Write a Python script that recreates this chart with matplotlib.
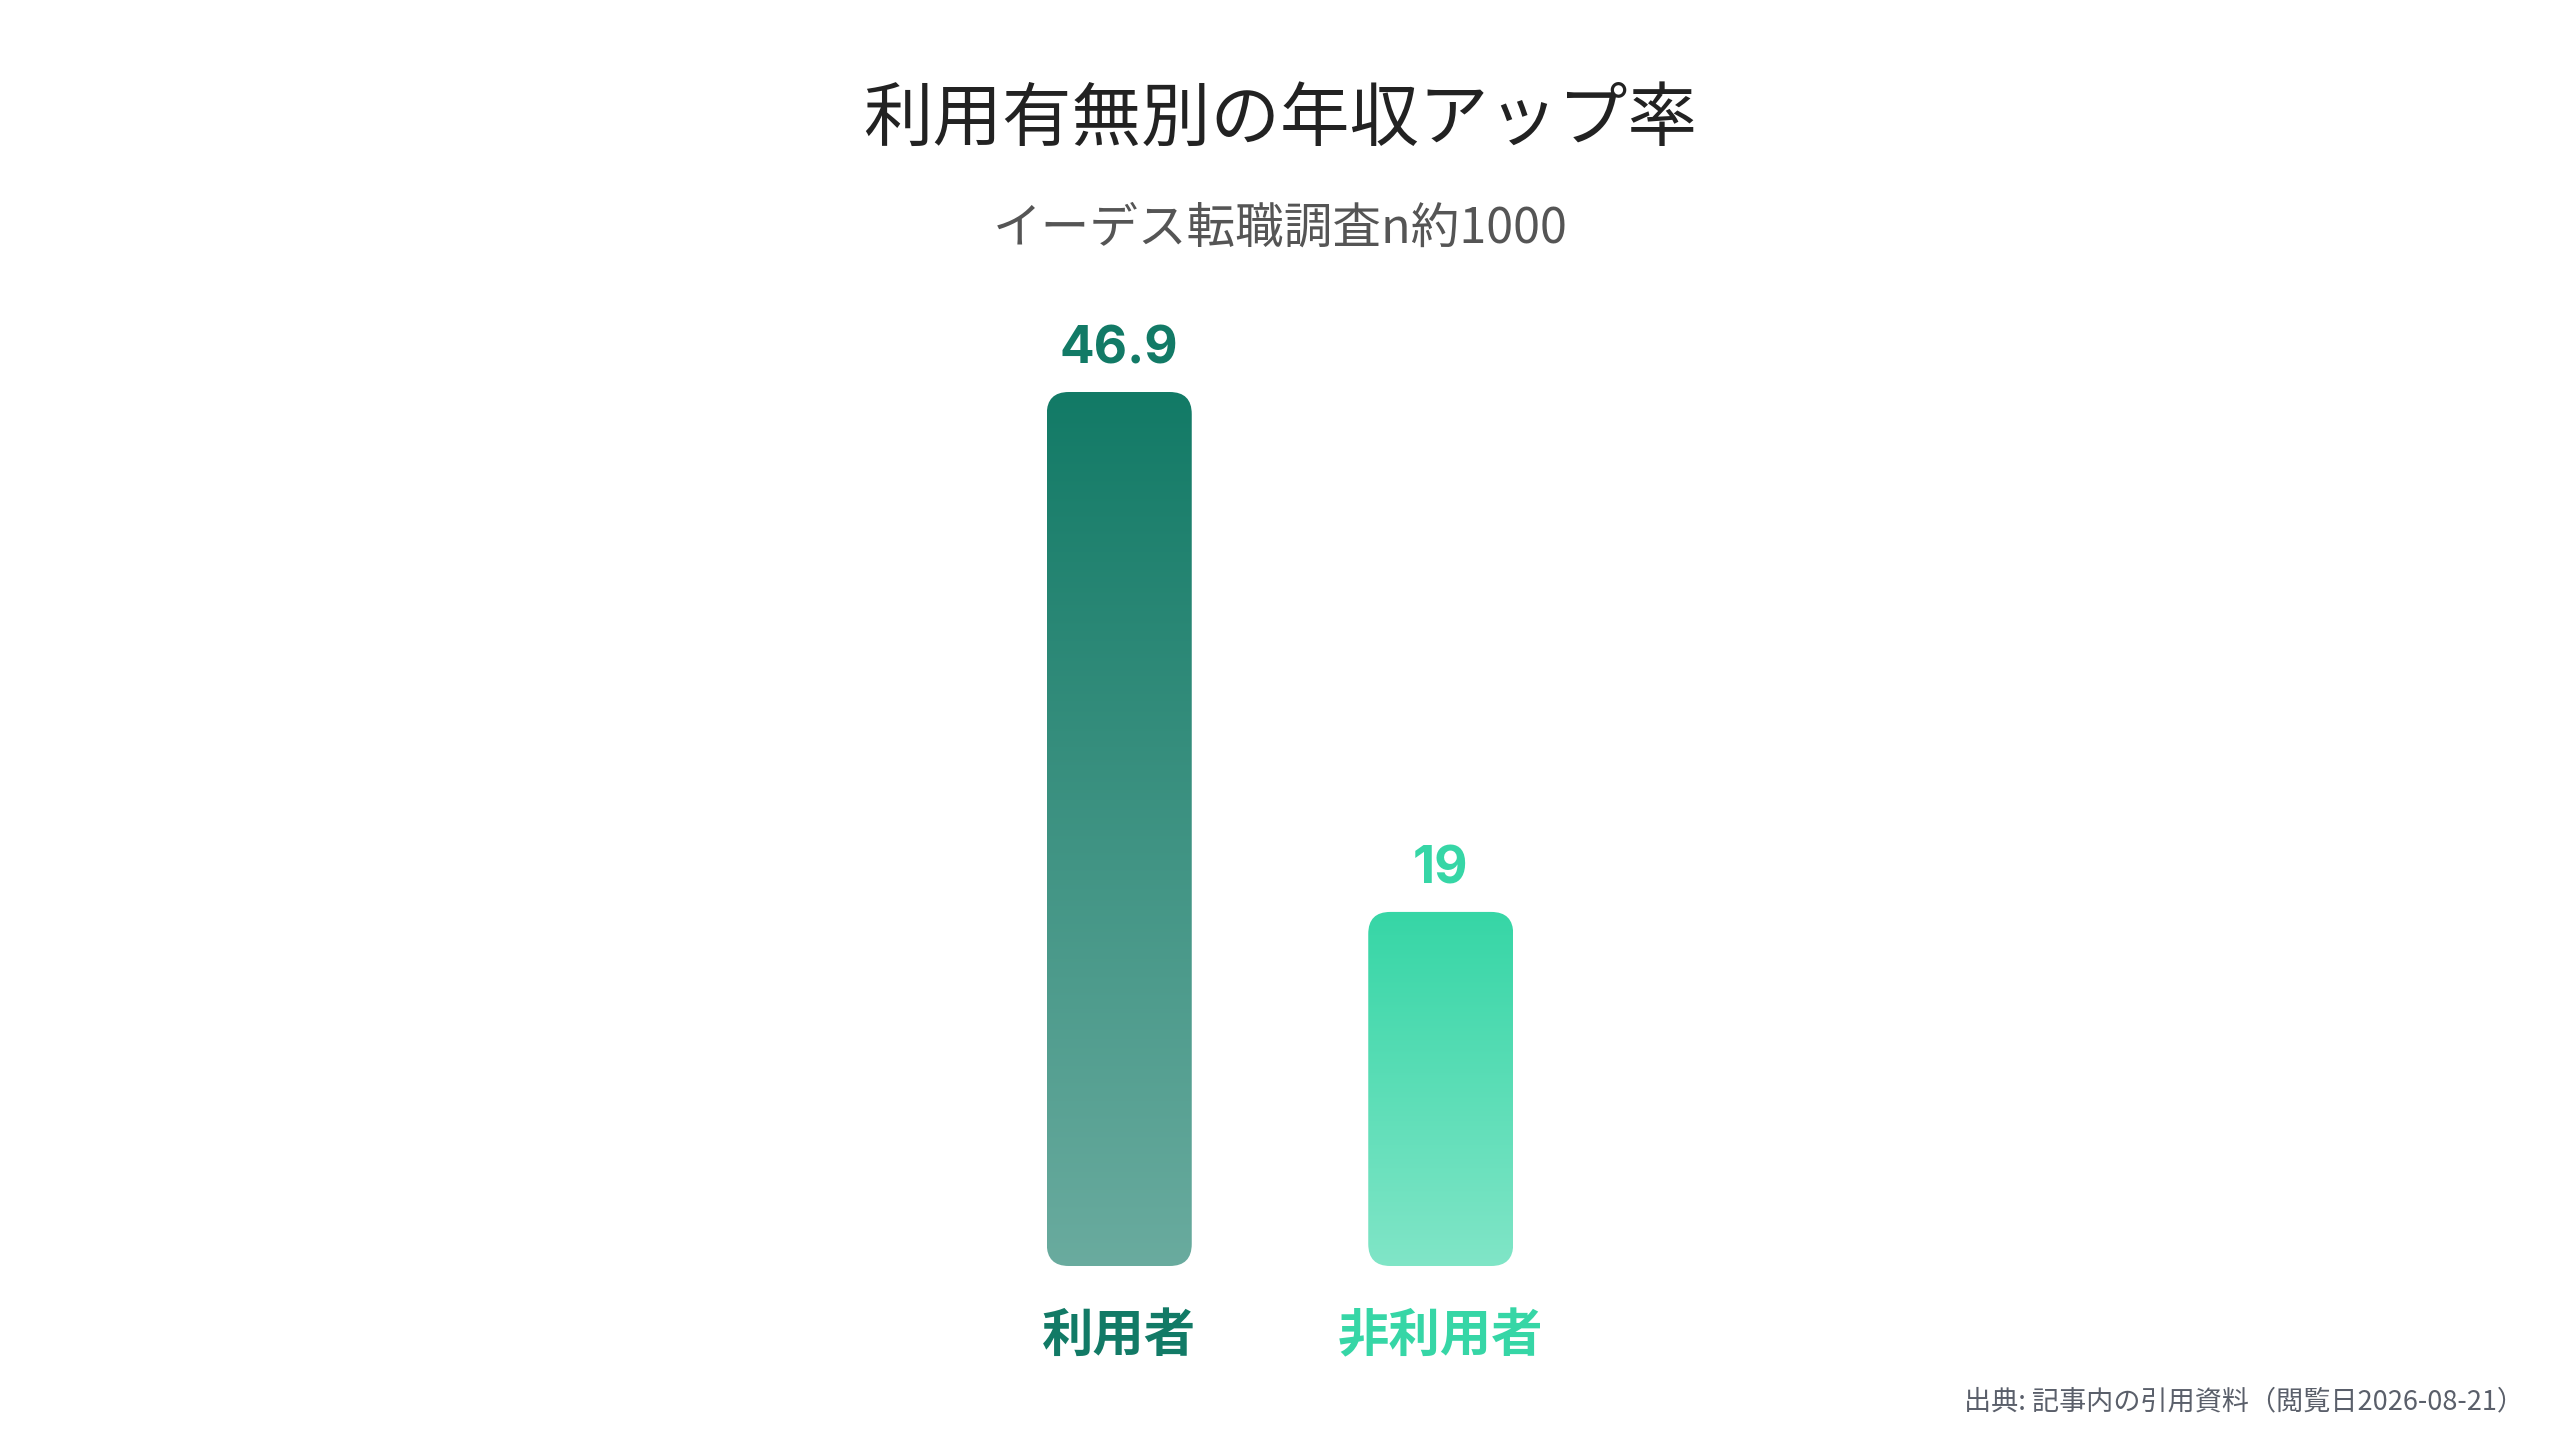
import numpy as np
import matplotlib
matplotlib.use("Agg")
import matplotlib.pyplot as plt
from matplotlib.patches import FancyBboxPatch
from matplotlib.colors import to_rgb

plt.rcParams['font.family'] = ['Noto Sans CJK JP', 'DejaVu Sans']

categories = ['利用者', '非利用者']
values = [46.9, 19]
bar_colors = ['#127a66', '#36d6a6']
value_labels = ['46.9', '19']

title = '利用有無別の年収アップ率'
subtitle = 'イーデス転職調査n約1000'
source = '出典: 記事内の引用資料（閲覧日2026-08-21）'

W, H = 2560, 1440
fig = plt.figure(figsize=(W / 100, H / 100), dpi=100)
fig.patch.set_facecolor('white')

# axes placed in pixels: baseline at y=1266, 46.9 at y=392
px_per_unit_y = (1266 - 392) / 46.9
ymax = 50
ax_h = ymax * px_per_unit_y
ax_w = 643
ax = fig.add_axes([(1280 - ax_w / 2) / W, (H - 1266) / H, ax_w / W, ax_h / H])
ax.set_xlim(-0.5, 1.5)
ax.set_ylim(0, ymax)
ax.axis('off')

bar_w = 145 / 321.5
radius_px = 22
px_per_unit_x = ax_w / 2
mut_aspect = px_per_unit_x / px_per_unit_y

for i, (v, c) in enumerate(zip(values, bar_colors)):
    rgb = np.array(to_rgb(c))
    alpha = np.linspace(0.63, 1.0, 256)[:, None]
    grad = alpha * rgb + (1 - alpha) * np.ones(3)
    img = grad[:, None, :]
    x0 = i - bar_w / 2
    patch = FancyBboxPatch((x0, 0), bar_w, v,
                           boxstyle=f"round,pad=0,rounding_size={radius_px / px_per_unit_x}",
                           mutation_aspect=mut_aspect,
                           facecolor='none', edgecolor='none')
    ax.add_patch(patch)
    im = ax.imshow(img, extent=[x0, x0 + bar_w, 0, v], origin='lower',
                   aspect='auto', interpolation='bilinear', zorder=2)
    im.set_clip_path(patch)

    ax.annotate(value_labels[i], (i, v), xytext=(0, 30), textcoords='offset points',
                ha='center', va='center', fontsize=37, fontweight='bold', color=c,
                family=['Inter', 'DejaVu Sans'])
    ax.annotate(categories[i], (i, 0), xytext=(0, -50), textcoords='offset points',
                ha='center', va='center', fontsize=37, fontweight='bold', color=c,
                annotation_clip=False)

ax.set_xlim(-0.5, 1.5)
ax.set_ylim(0, ymax)

fig.text(0.5, 1 - 120 / H, title, ha='center', va='center', fontsize=50, color='#222222')
fig.text(0.5, 1 - 229 / H, subtitle, ha='center', va='center', fontsize=35, color='#555555')
fig.text(2524 / W, 1 - 1402 / H, source, ha='right', va='center', fontsize=19.5, color='#5a5f6a')

fig.savefig('out.png', dpi=100, facecolor='white')
